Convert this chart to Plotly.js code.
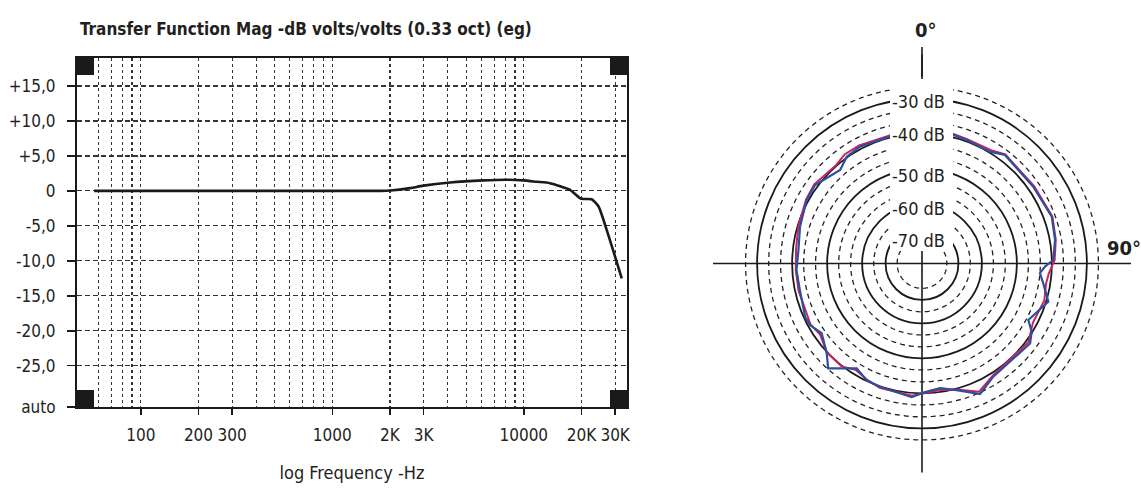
<!DOCTYPE html>
<html><head><meta charset="utf-8">
<script src="https://cdn.plot.ly/plotly-3.0.1.min.js"></script>
<style>html,body{margin:0;padding:0;background:#fff;} #chart{width:1141px;height:489px;}</style>
</head><body><div id="chart"></div>
<script>
// ---- Transfer function (left chart) ----
const freqHz = [57, 100, 200, 500, 1000, 1500, 1800, 2000, 2550, 2990, 4120, 6150, 8150, 9960, 11690, 13700, 17450, 19680, 20480, 22640, 24540, 27120, 29980, 32480];
const magDb  = [0, 0, 0, 0, 0, 0, 0, 0.05, 0.4, 0.75, 1.2, 1.5, 1.6, 1.5, 1.3, 1.1, 0.15, -1.05, -1.15, -1.2, -2.2, -5.6, -9.4, -12.5];

const xTickVals = [100, 200, 300, 1000, 2000, 3000, 10000, 20000, 30000];
const xTickText = ['100', '200', '300', '1000', '2K', '3K', '10000', '20K', '30K'];
const xMinorGrid = [60, 70, 80, 90, 400, 500, 600, 700, 800, 900, 4000, 5000, 6000, 7000, 8000, 9000];
const yTickVals = [15, 10, 5, 0, -5, -10, -15, -20, -25, -30.9];
const yTickText = ['+15,0', '+10,0', '+5,0', '0', '-5,0', '-10,0', '-15,0', '-20,0', '-25,0', 'auto'];

// ---- Polar pattern (right chart), angle in degrees, level in dB ----
const blueAngle = [0, 13.7, 19.9, 31.3, 37.4, 55.4, 70.2, 80, 88.5, 91.5, 94.7, 99.3, 106.8, 118, 121.9, 126.5, 147.8, 156, 164.7, 171.8, 179.4, 184.4, 198.8, 205.4, 211.9, 218, 221.8, 226.7, 235.2, 241.2, 245.5, 257.7, 267, 276.2, 286.8, 298.8, 306.3, 318.8, 324.8, 332, 345.8, 360];
const blueDb = [-39.5, -39.3, -39.6, -39.7, -38.1, -38.5, -37.7, -38.5, -39.6, -42.0, -43.3, -42.0, -39.4, -42.7, -40.2, -38.7, -38.9, -36.3, -39.6, -41.1, -40.2, -38.8, -39.9, -40.2, -41.8, -39.1, -36.9, -39.7, -42.2, -40.6, -40.4, -41.4, -41.2, -41.6, -40.7, -39.5, -39.2, -41.6, -39.8, -39.3, -39.7, -39.5];
const redAngle = [0, 13.7, 19.9, 31.3, 37.4, 55.4, 70.2, 80, 88.5, 94.7, 99.3, 106.8, 118, 126.5, 147.8, 156, 164.7, 171.8, 179.4, 184.4, 198.8, 205.4, 211.9, 218, 226.7, 235.2, 241.2, 257.7, 267, 276.2, 286.8, 298.8, 306.3, 318.8, 324.8, 332, 345.8, 360];
const redDb = [-39.3, -39.0, -39.3, -39.2, -37.9, -38.2, -37.5, -38.3, -39.2, -40.8, -41.2, -40.6, -41.2, -39.3, -39.2, -37.0, -39.8, -40.6, -40.0, -39.2, -39.6, -40.4, -41.3, -39.8, -39.9, -41.6, -40.8, -41.0, -41.0, -40.9, -40.2, -39.3, -38.9, -39.8, -38.9, -38.9, -39.4, -39.3];

const solidRings = [-30, -40, -50, -60, -66.7];
const dashedRings = [-26.7, -33.3, -36.7, -43.3, -46.7, -53.3, -56.7, -63.3, -70];
const ringLabels = ['-30 dB', '-40 dB', '-50 dB', '-60 dB', '-70 dB'];
const ringTheta = Array.from({length: 181}, (_, i) => i * 2); // full circle path for the dashed rings

const W = 1141, H = 489;
const px = v => v / W, py = v => 1 - v / H;
const FONT = "'Liberation Sans Narrow', 'DejaVu Sans Condensed', 'Arial Narrow', sans-serif";
const INK = '#231f20';

const traces = [
  {type: 'scatter', x: freqHz, y: magDb, mode: 'lines', xaxis: 'x', yaxis: 'y',
   line: {color: '#1a1a1a', width: 2.6, shape: 'spline', smoothing: 0.6}, hoverinfo: 'skip', showlegend: false}
];
dashedRings.forEach(v => traces.push({
  type: 'scatterpolar', subplot: 'polar', theta: ringTheta, r: ringTheta.map(() => v), mode: 'lines',
  line: {color: '#222222', width: 1.3, dash: '5px,4px'}, hoverinfo: 'skip', showlegend: false
}));
traces.push(
  {type: 'scatterpolar', subplot: 'polar', theta: redAngle, r: redDb, mode: 'lines',
   line: {color: '#c8245e', width: 2}, showlegend: false},
  {type: 'scatterpolar', subplot: 'polar', theta: blueAngle, r: blueDb, mode: 'lines',
   line: {color: '#2c4f9e', width: 2.2}, showlegend: false}
);

const shapes = [];
// corner blocks of the frame
[[0, 0], [1, 0], [0, 1], [1, 1]].forEach(([cx, cy]) => {
  const sw = 17 / 550, sh = 17 / 349;
  shapes.push({type: 'rect', xref: 'x domain', yref: 'y domain',
    x0: cx ? 1 - sw : 0, x1: cx ? 1 : sw, y0: cy ? 1 - sh : 0, y1: cy ? 1 : sh,
    fillcolor: '#1a1a1a', line: {width: 0}});
});
// white column behind the ring labels
shapes.push({type: 'rect', xref: 'paper', yref: 'paper', x0: px(890), x1: px(953), y0: py(251), y1: py(79),
  fillcolor: '#ffffff', line: {width: 0}, layer: 'above'});
// 0° marker
shapes.push({type: 'line', xref: 'paper', yref: 'paper', x0: px(922), x1: px(922), y0: py(47), y1: py(77),
  line: {color: '#1a1a1a', width: 1.6}, layer: 'above'});

const ringLabelY = [101, 135, 175, 208, 240.5];
const annotations = ringLabels.map((t, i) => ({
  text: t, xref: 'paper', yref: 'paper', x: px(918.5), y: py(ringLabelY[i]),
  xanchor: 'center', yanchor: 'middle', showarrow: false, font: {family: FONT, size: 18, color: INK}
}));
annotations.push({text: '0°', xref: 'paper', yref: 'paper', x: px(926), y: py(30), xanchor: 'center', yanchor: 'middle',
  showarrow: false, font: {family: FONT, size: 20, color: INK, weight: 'bold'}});
annotations.push({text: '90°', xref: 'paper', yref: 'paper', x: px(1124), y: py(248), xanchor: 'center', yanchor: 'middle',
  showarrow: false, font: {family: FONT, size: 20, color: INK, weight: 'bold'}});

const layout = {
  width: W, height: H, autosize: false,
  margin: {l: 0, r: 0, t: 0, b: 0, pad: 0},
  paper_bgcolor: '#ffffff', plot_bgcolor: '#ffffff',
  font: {family: FONT, color: INK},
  showlegend: false,
  title: {text: 'Transfer Function Mag -dB volts/volts (0.33 oct) (eg)', x: px(80), xanchor: 'left', y: py(29), yanchor: 'middle',
    font: {family: FONT, size: 17, color: INK, weight: 'bold'}},
  xaxis: {
    type: 'log', domain: [px(77), px(627)], range: [Math.log10(46.4), Math.log10(34600)],
    tickmode: 'array', tickvals: xTickVals, ticktext: xTickText,
    ticks: 'outside', ticklen: 6, tickwidth: 1.5, tickcolor: '#1a1a1a', ticklabelstandoff: 6,
    tickfont: {family: FONT, size: 17, color: INK},
    showgrid: true, gridcolor: '#333333', gridwidth: 1.2, griddash: '3px,3px',
    minor: {tickmode: 'array', tickvals: xMinorGrid, showgrid: true, gridcolor: '#333333', gridwidth: 1.2, griddash: '3px,3px', ticks: ''},
    showline: true, linecolor: '#1a1a1a', linewidth: 2, mirror: true, zeroline: false, automargin: false,
    title: {text: 'log Frequency -Hz', font: {family: FONT, size: 18, color: INK}, standoff: 22}
  },
  yaxis: {
    domain: [1 - 407 / H, 1 - 58 / H], range: [-30.9, 19.0],
    tickmode: 'array', tickvals: yTickVals, ticktext: yTickText,
    ticks: 'outside', ticklen: 8, tickwidth: 1.5, tickcolor: '#1a1a1a', ticklabelstandoff: 8,
    tickfont: {family: FONT, size: 17, color: INK},
    showgrid: true, gridcolor: '#333333', gridwidth: 1.2, griddash: '5px,3px',
    showline: true, linecolor: '#1a1a1a', linewidth: 2, mirror: true, zeroline: false, automargin: false
  },
  polar: {
    domain: {x: [px(713), px(1131)], y: [16.5 / H, 434.5 / H]},
    bgcolor: 'rgba(0,0,0,0)',
    radialaxis: {range: [-77.1, -17.4], tickmode: 'array', tickvals: solidRings, showticklabels: false, ticks: '',
      showline: false, showgrid: true, gridcolor: '#1a1a1a', gridwidth: 1.8},
    angularaxis: {rotation: 90, direction: 'clockwise', tickmode: 'array', tickvals: [0, 90, 180, 270],
      showgrid: true, gridcolor: '#1a1a1a', gridwidth: 1.6, showline: false, ticks: '', showticklabels: false}
  },
  shapes: shapes,
  annotations: annotations
};

Plotly.newPlot('chart', traces, layout, {displayModeBar: false, staticPlot: true});
</script></body></html>
